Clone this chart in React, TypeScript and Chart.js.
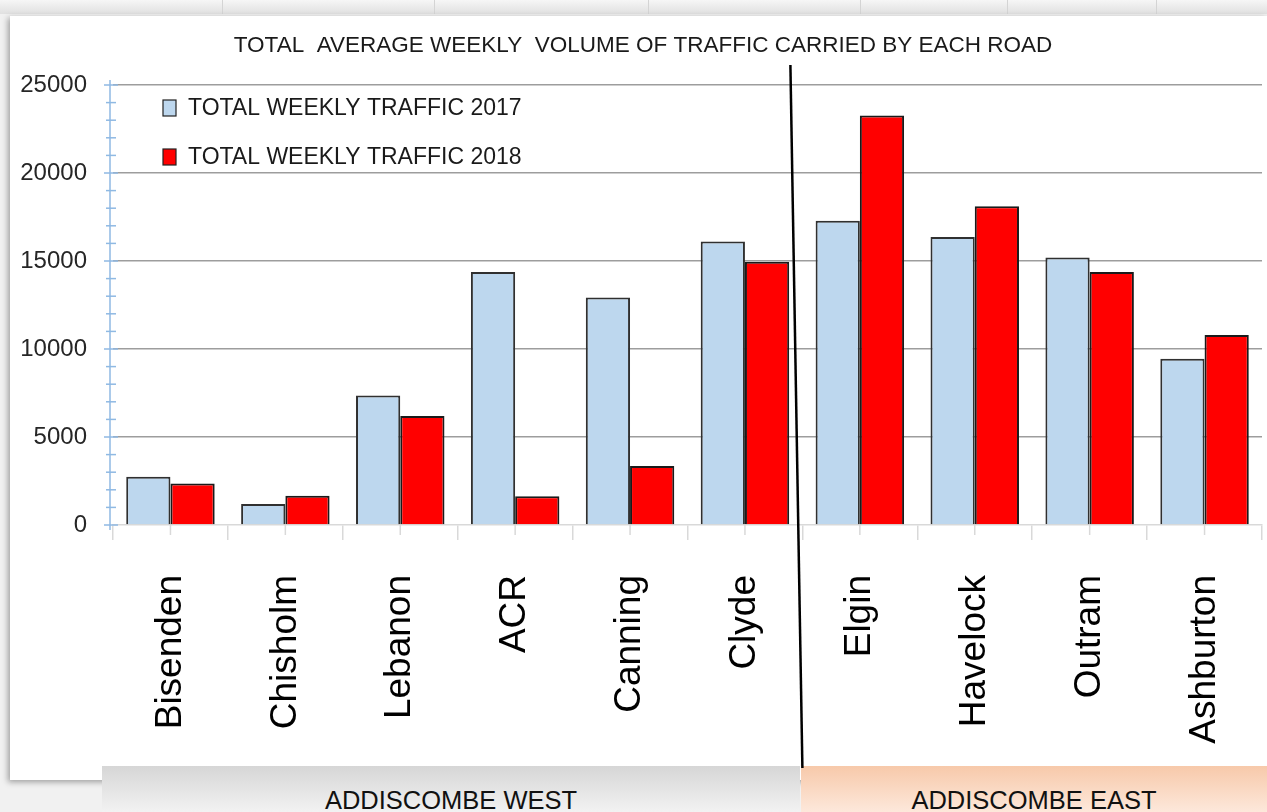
import React, { useEffect, useRef } from 'react';
import { Chart, registerables } from 'chart.js';

Chart.register(...registerables);

const chartTitle = 'TOTAL  AVERAGE WEEKLY  VOLUME OF TRAFFIC CARRIED BY EACH ROAD';
const roads = ['Bisenden', 'Chisholm', 'Lebanon', 'ACR', 'Canning', 'Clyde', 'Elgin', 'Havelock', 'Outram', 'Ashburton'];
const traffic2017 = [2740, 1190, 7360, 14370, 12920, 16110, 17290, 16370, 15200, 9440];
const traffic2018 = [2360, 1660, 6190, 1630, 3350, 14960, 23270, 18110, 14380, 10800];
const seriesLabels = ['TOTAL WEEKLY TRAFFIC 2017', 'TOTAL WEEKLY TRAFFIC 2018'];
const yTickValues = [0, 5000, 10000, 15000, 20000, 25000];
const regionLabels = ['ADDISCOMBE WEST', 'ADDISCOMBE EAST'];
const westRoadCount = 6;

const FONT = '"Liberation Sans", Arial, sans-serif';

const decorPlugin = {
  id: 'decor',
  afterDraw(chart: any) {
    const { ctx, chartArea: ca, scales } = chart;
    const x = scales.x;
    const y = scales.y;
    ctx.save();

    // title
    ctx.font = `22.5px ${FONT}`;
    ctx.fillStyle = '#1a1a1a';
    ctx.textAlign = 'center';
    ctx.textBaseline = 'middle';
    ctx.fillText(chartTitle, 633, 29);

    // y axis (light blue) with minor ticks
    const ax = ca.left - 3;
    ctx.strokeStyle = '#8fb9e3';
    ctx.lineWidth = 1.5;
    ctx.beginPath();
    ctx.moveTo(ax, y.getPixelForValue(25000) - 5);
    ctx.lineTo(ax, y.getPixelForValue(0) + 5);
    ctx.stroke();
    for (let v = 0; v <= 25000; v += 1000) {
      const py = y.getPixelForValue(v);
      const major = v % 5000 === 0;
      ctx.beginPath();
      ctx.moveTo(ax - (major ? 6 : 4), py);
      ctx.lineTo(ax + (major ? 8 : 6), py);
      ctx.stroke();
    }

    // center ticks below x axis
    ctx.strokeStyle = '#d9d9d9';
    ctx.lineWidth = 1.5;
    for (let i = 0; i < roads.length; i++) {
      const px = x.getPixelForValue(i);
      ctx.beginPath();
      ctx.moveTo(px, ca.bottom);
      ctx.lineTo(px, ca.bottom + 10);
      ctx.stroke();
    }

    // legend inside plot
    chart.data.datasets.forEach((ds: any, i: number) => {
      const by = 83 + i * 49;
      ctx.fillStyle = ds.backgroundColor;
      ctx.fillRect(153, by, 13, 16);
      ctx.strokeStyle = '#222';
      ctx.lineWidth = 1.2;
      ctx.strokeRect(153, by, 13, 16);
      ctx.fillStyle = '#1a1a1a';
      ctx.font = `23px ${FONT}`;
      ctx.textAlign = 'left';
      ctx.textBaseline = 'middle';
      ctx.fillText(ds.label, 178, by + 9);
    });

    // divider line between west and east
    const boundary = (x.getPixelForValue(westRoadCount - 1) + x.getPixelForValue(westRoadCount)) / 2;
    ctx.strokeStyle = '#000';
    ctx.lineWidth = 2.5;
    ctx.beginPath();
    ctx.moveTo(boundary - 12, 48);
    ctx.lineTo(boundary, chart.height);
    ctx.stroke();

    ctx.restore();
  },
};

function TrafficChart() {
  const ref = useRef<HTMLCanvasElement | null>(null);
  useEffect(() => {
    if (!ref.current) return;
    const chart = new Chart(ref.current, {
      type: 'bar',
      data: {
        labels: roads,
        datasets: [
          {
            label: seriesLabels[0],
            data: traffic2017,
            backgroundColor: '#bdd7ee',
            borderColor: '#303030',
            borderWidth: 2,
          },
          {
            label: seriesLabels[1],
            data: traffic2018,
            backgroundColor: '#ff0000',
            borderColor: '#1a1a1a',
            borderWidth: 2,
          },
        ],
      },
      options: {
        animation: false,
        responsive: false,
        maintainAspectRatio: false,
        datasets: { bar: { categoryPercentage: 0.77, barPercentage: 1 } },
        layout: { padding: { top: 68, right: 5, left: 0, bottom: 0 } },
        plugins: {
          legend: { display: false },
          title: { display: false },
          tooltip: { enabled: false },
        },
        scales: {
          x: {
            afterFit: (s: any) => {
              s.height = 243;
              s.paddingLeft = 0;
              s.paddingRight = 0;
            },
            grid: {
              drawOnChartArea: false,
              color: '#d9d9d9',
              lineWidth: 1.5,
              tickLength: 15,
            },
            border: { color: '#d9d9d9', width: 1.5 },
            ticks: {
              autoSkip: false,
              maxRotation: 90,
              minRotation: 90,
              padding: 35,
              color: '#000',
              font: { family: FONT, size: 37 },
            },
          },
          y: {
            min: 0,
            max: 25000,
            afterFit: (s: any) => { s.width = 103; },
            grid: {
              drawTicks: false,
              lineWidth: 1.5,
              color: (c: any) => (c.tick && c.tick.value === 0 ? 'rgba(0,0,0,0)' : '#9d9d9d'),
            },
            border: { display: false },
            ticks: {
              stepSize: 5000,
              padding: 26,
              color: '#262626',
              font: { family: FONT, size: 24 },
              callback: (v: any) => (yTickValues.includes(Number(v)) ? String(v) : ''),
            },
          },
        },
      },
      plugins: [decorPlugin],
    });
    return () => chart.destroy();
  }, []);
  return <canvas ref={ref} width={1257} height={751} style={{ position: 'absolute', left: 10, top: 17, width: 1257, height: 751 }} />;
}

export default function App() {
  const faintLines = [222, 434, 648, 860, 1007, 1156];
  return (
    <div style={{ position: 'fixed', left: 0, top: 0, width: 1267, height: 812, overflow: 'hidden', background: '#f1f1f1', fontFamily: FONT }}>
      <div style={{ position: 'absolute', left: 0, top: 0, width: 1267, height: 14, background: 'linear-gradient(#f6f6f6, #e0e0e0)' }} />
      {faintLines.map((lx) => (
        <div key={lx} style={{ position: 'absolute', left: lx, top: 0, width: 1, height: 14, background: '#d4d4d4' }} />
      ))}
      <div style={{ position: 'absolute', left: 10, top: 16, width: 1257, height: 764, background: '#fff', boxShadow: '-2px 2px 6px rgba(0,0,0,0.35)' }} />
      <div style={{ position: 'absolute', left: 102, top: 766, width: 698, height: 46, background: 'linear-gradient(#d6d6d6, #f2f2f2)' }} />
      <div style={{ position: 'absolute', left: 801, top: 766, width: 466, height: 46, background: 'linear-gradient(#f7c9aa, #fde8db)' }} />
      <div style={{ position: 'absolute', left: 102, top: 787, width: 698, height: 26, lineHeight: '26px', fontSize: 25.5, textAlign: 'center', color: '#111' }}>{regionLabels[0]}</div>
      <div style={{ position: 'absolute', left: 801, top: 787, width: 466, height: 26, lineHeight: '26px', fontSize: 25.5, textAlign: 'center', color: '#111' }}>{regionLabels[1]}</div>
      <TrafficChart />
    </div>
  );
}
